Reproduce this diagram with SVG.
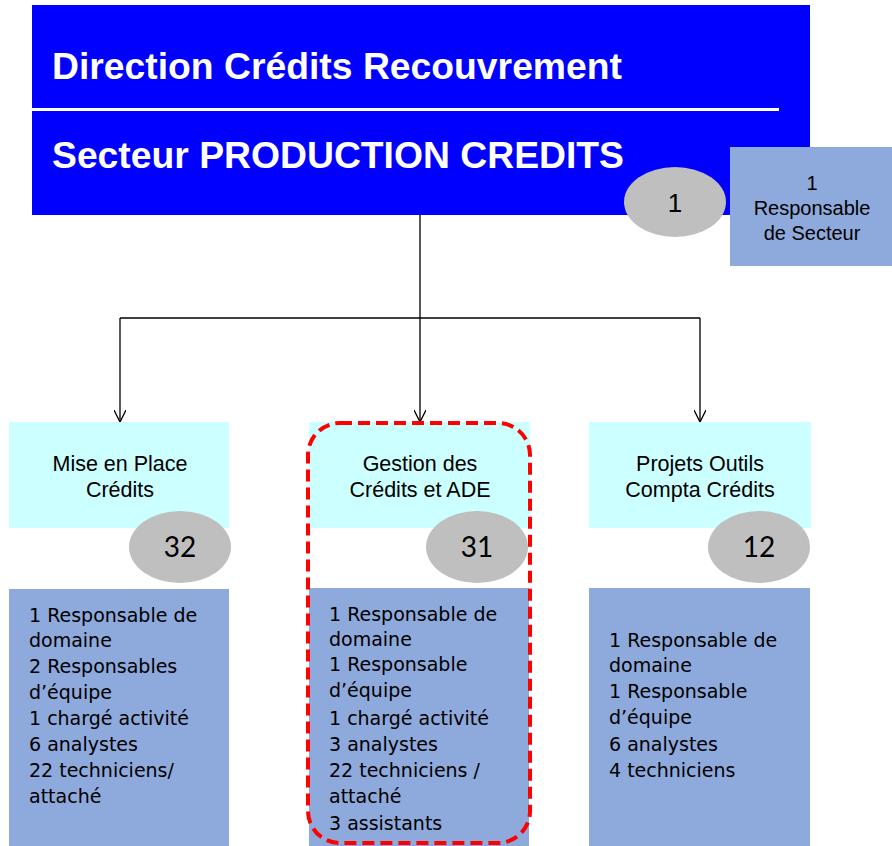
<svg xmlns="http://www.w3.org/2000/svg" width="892" height="846" viewBox="0 0 892 846">
<defs>
<style>
.title{font-family:"Liberation Sans",Arial,sans-serif;font-weight:bold;font-size:36px;fill:#fff}
.lbl{font-family:"Liberation Sans",Arial,sans-serif;font-size:20px;fill:#000;text-anchor:middle}
.box{font-size:21.5px}
.num{font-family:Lato,"Open Sans",sans-serif;font-size:28px;fill:#000;text-anchor:middle}
.list{font-family:"DejaVu Sans",Verdana,sans-serif;font-size:19px;fill:#000}
.cyan{fill:#CCFFFF}
.steel{fill:#8EA9DB}
.oval{fill:#BFBFBF}
.conn{fill:none;stroke:#000;stroke-width:1.3}
</style>
<marker id="arr" viewBox="0 0 12 12" refX="12" refY="6" markerWidth="12" markerHeight="12" markerUnits="userSpaceOnUse" orient="auto">
<path d="M0,0 L12,6 L0,12" fill="none" stroke="#000" stroke-width="1.3"/>
</marker>
</defs>
<rect width="892" height="846" fill="#fff"/>
<g id="head">
<rect x="32" y="5" width="778" height="210" fill="#0000FF"/>
<line x1="32" y1="109.5" x2="779" y2="109.5" stroke="#fff" stroke-width="3"/>
<text class="title" x="52" y="79" textLength="570" lengthAdjust="spacingAndGlyphs">Direction Crédits Recouvrement</text>
<text class="title" x="52" y="168" textLength="572" lengthAdjust="spacingAndGlyphs">Secteur PRODUCTION CREDITS</text>
</g>
<g id="head-count">
<ellipse class="oval" cx="675" cy="202" rx="51" ry="35"/>
<text x="675" y="212" style="font-family:'Liberation Sans',Arial,sans-serif;font-size:26px;text-anchor:middle">1</text>
</g>
<g id="head-resp">
<rect class="steel" x="730" y="147" width="162" height="119"/>
<text class="lbl" x="812" y="190">1</text>
<text class="lbl" x="812" y="215">Responsable</text>
<text class="lbl" x="812" y="240">de Secteur</text>
</g>
<g id="connectors">
<path class="conn" d="M420,215 V318"/>
<path class="conn" d="M120,318 H700"/>
<path class="conn" d="M120,318 V422" marker-end="url(#arr)"/>
<path class="conn" d="M420,318 V422" marker-end="url(#arr)"/>
<path class="conn" d="M700,318 V422" marker-end="url(#arr)"/>
</g>
<g id="mise">
<rect class="cyan" x="9" y="422" width="220" height="106"/>
<text class="lbl box" x="120" y="471">Mise en Place</text>
<text class="lbl box" x="120" y="497">Crédits</text>
</g>
<g id="mise-count">
<ellipse class="oval" cx="180" cy="547" rx="51" ry="36"/>
<text class="num" x="180" y="557">32</text>
</g>
<g id="mise-staff">
<rect class="steel" x="9" y="589" width="220" height="257"/>
<text class="list" x="29" y="622">1 Responsable de</text>
<text class="list" x="29" y="647">domaine</text>
<text class="list" x="29" y="673">2 Responsables</text>
<text class="list" x="29" y="699">d’équipe</text>
<text class="list" x="29" y="725">1 chargé activité</text>
<text class="list" x="29" y="751">6 analystes</text>
<text class="list" x="29" y="777">22 techniciens/</text>
<text class="list" x="29" y="803">attaché</text>
</g>
<g id="gestion">
<rect class="cyan" x="309" y="422" width="221" height="106"/>
<text class="lbl box" x="420" y="471">Gestion des</text>
<text class="lbl box" x="420" y="497">Crédits et ADE</text>
</g>
<g id="gestion-count">
<ellipse class="oval" cx="477" cy="547" rx="51" ry="36"/>
<text class="num" x="477" y="557">31</text>
</g>
<g id="gestion-staff">
<rect class="steel" x="309" y="588" width="220" height="258"/>
<text class="list" x="329" y="621">1 Responsable de</text>
<text class="list" x="329" y="646">domaine</text>
<text class="list" x="329" y="671">1 Responsable</text>
<text class="list" x="329" y="697">d’équipe</text>
<text class="list" x="329" y="725">1 chargé activité</text>
<text class="list" x="329" y="751">3 analystes</text>
<text class="list" x="329" y="777">22 techniciens /</text>
<text class="list" x="329" y="803">attaché</text>
<text class="list" x="329" y="830">3 assistants</text>
</g>
<g id="highlight">
<rect x="308" y="423" width="222" height="420" rx="32" ry="32" fill="none" stroke="#FF0000" stroke-width="4" stroke-dasharray="12 6"/>
</g>
<g id="projets">
<rect class="cyan" x="589" y="422" width="222" height="106"/>
<text class="lbl box" x="700" y="471">Projets Outils</text>
<text class="lbl box" x="700" y="497">Compta Crédits</text>
</g>
<g id="projets-count">
<ellipse class="oval" cx="759" cy="547" rx="51" ry="36"/>
<text class="num" x="759" y="557">12</text>
</g>
<g id="projets-staff">
<rect class="steel" x="589" y="588" width="221" height="258"/>
<text class="list" x="609" y="647">1 Responsable de</text>
<text class="list" x="609" y="672">domaine</text>
<text class="list" x="609" y="698">1 Responsable</text>
<text class="list" x="609" y="724">d’équipe</text>
<text class="list" x="609" y="751">6 analystes</text>
<text class="list" x="609" y="777">4 techniciens</text>
</g>
</svg>
